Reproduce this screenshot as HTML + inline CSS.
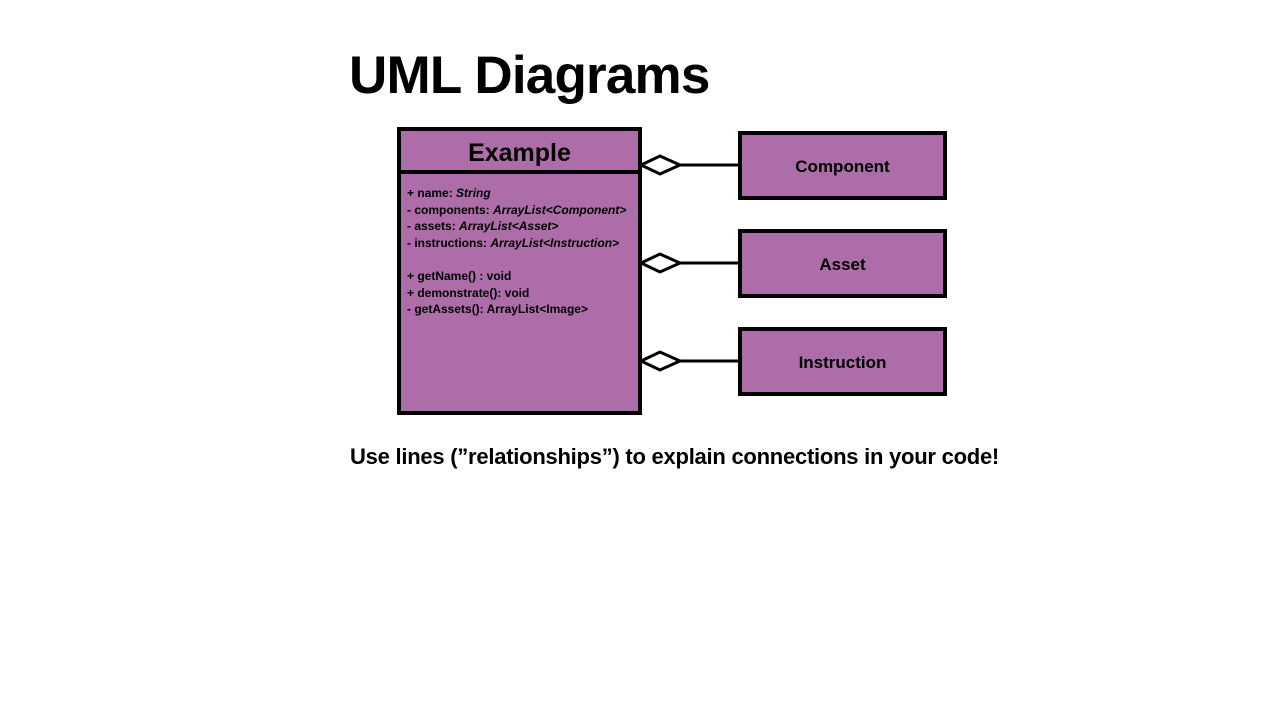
<!DOCTYPE html>
<html><head><meta charset="utf-8"><style>
body{margin:0;width:1280px;height:720px;background:#fff;position:relative;overflow:hidden;font-family:"Liberation Sans",sans-serif;font-weight:bold;color:#000}
.a{position:absolute}
.box{position:absolute;background:#AD6DA8;border:4px solid #000;box-sizing:border-box}
.rb{display:flex;align-items:center;justify-content:center;font-size:17px}
.m{font-size:12px;line-height:16.6px;letter-spacing:0px}
i{font-style:italic}
</style></head><body>
<div class="a" style="left:349px;top:45px;font-size:53px;letter-spacing:-0.8px">UML Diagrams</div>
<div class="box" style="left:397px;top:127px;width:245px;height:288px"></div>
<div class="a" style="left:397px;top:170px;width:245px;height:4px;background:#000"></div>
<div class="a" style="left:397px;top:139px;width:245px;text-align:center;font-size:25px">Example</div>
<div class="a m" style="left:407px;top:185px">+ name: <i>String</i><br>- components: <i>ArrayList&lt;Component&gt;</i><br>- assets: <i>ArrayList&lt;Asset&gt;</i><br>- instructions: <i>ArrayList&lt;Instruction&gt;</i><br><br>+ getName() : void<br>+ demonstrate(): void<br>- getAssets(): ArrayList&lt;Image&gt;</div>
<div class="box rb" style="left:738px;top:131px;width:209px;height:69px;padding-top:2px">Component</div>
<div class="box rb" style="left:738px;top:229px;width:209px;height:69px;padding-top:2px">Asset</div>
<div class="box rb" style="left:738px;top:327px;width:209px;height:69px;padding-top:2px">Instruction</div>
<svg class="a" style="left:0;top:0" width="1280" height="720">
<g fill="#fff" stroke="#000" stroke-width="3">
<path d="M641 165 L660 156 L680 165 L660 174 Z"/><line x1="680" y1="165" x2="740" y2="165"/>
<path d="M641 263 L660 254 L680 263 L660 272 Z"/><line x1="680" y1="263" x2="740" y2="263"/>
<path d="M641 361 L660 352 L680 361 L660 370 Z"/><line x1="680" y1="361" x2="740" y2="361"/>
</g></svg>
<div class="a" style="left:350px;top:444px;font-size:22px;letter-spacing:-0.25px">Use lines (”relationships”) to explain connections in your code!</div>
</body></html>
